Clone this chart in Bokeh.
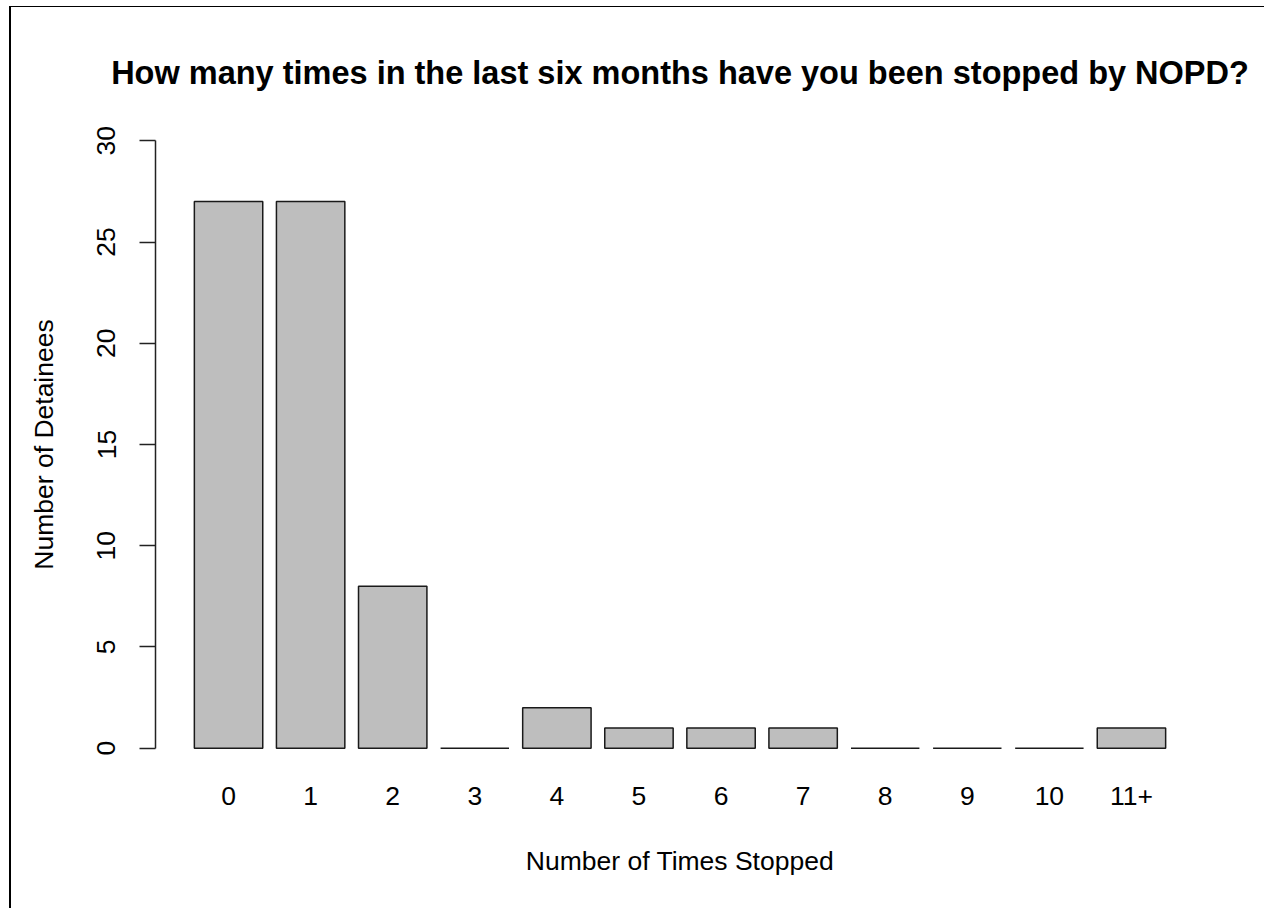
from bokeh.plotting import figure
from bokeh.models import Range1d, FixedTicker, ColumnDataSource
from bokeh.embed import file_html
from bokeh.resources import INLINE

# Data
categories = ["0", "1", "2", "3", "4", "5", "6", "7", "8", "9", "10", "11+"]
counts = [27, 27, 8, 0, 2, 1, 1, 1, 0, 0, 0, 1]
y_ticks = [0, 5, 10, 15, 20, 25, 30]

title_text = "How many times in the last six months have you been stopped by NOPD?"
x_title = "Number of Times Stopped"
y_title = "Number of Detainees"

# R barplot geometry: width 1, space 0.2
centers = [0.7 + 1.2 * i for i in range(len(categories))]
x_lo = 0.2
x_hi = 1.2 * len(categories)
pad = 0.04 * (x_hi - x_lo)

FONT = "Liberation Sans"

p = figure(width=1255, height=902, output_backend="svg", toolbar_location=None,
           x_range=Range1d(x_lo - pad, x_hi + pad), y_range=Range1d(-1.2, 31.2),
           min_border_left=144, min_border_right=62, min_border_top=109, min_border_bottom=137)
p.styles = {"border-left": "2px solid black", "border-top": "1px solid black",
            "margin-top": "6px", "margin-left": "9px"}

src = ColumnDataSource(dict(x=centers, top=counts, cat=categories))
p.vbar(x="x", top="top", bottom=0, width=1.0, source=src,
       fill_color="#BEBEBE", line_color="#1a1a1a", line_width=1.5)

p.outline_line_color = None
p.xgrid.visible = False
p.ygrid.visible = False
p.background_fill_color = "white"
p.border_fill_color = "white"

# Title
p.title.text = title_text
p.title.align = "center"
p.title.text_font = FONT
p.title.text_font_size = "32.5px"
p.title.text_font_style = "bold"
p.title.text_color = "black"
p.title.standoff = 52

# X axis (labels only)
xa = p.xaxis[0]
xa.ticker = FixedTicker(ticks=centers)
xa.major_label_overrides = {c: lab for c, lab in zip(centers, categories)}
xa.axis_line_color = None
xa.major_tick_line_color = None
xa.minor_tick_line_color = None
xa.major_tick_out = 0
xa.major_label_standoff = 14
xa.major_label_text_font = FONT
xa.major_label_text_font_size = "26.5px"
xa.major_label_text_color = "black"
xa.axis_label = x_title
xa.axis_label_text_font = FONT
xa.axis_label_text_font_size = "26.5px"
xa.axis_label_text_font_style = "normal"
xa.axis_label_text_color = "black"
xa.axis_label_standoff = 38

# Y axis
ya = p.yaxis[0]
ya.ticker = FixedTicker(ticks=y_ticks)
ya.bounds = (0, 30)
ya.axis_line_color = "#222222"
ya.axis_line_width = 1.5
ya.major_tick_line_color = "#222222"
ya.major_tick_line_width = 1.5
ya.major_tick_out = 16
ya.major_tick_in = 0
ya.minor_tick_line_color = None
ya.major_label_orientation = "vertical"
ya.major_label_standoff = 24
ya.major_label_text_font = FONT
ya.major_label_text_font_size = "26.5px"
ya.major_label_text_color = "black"
ya.axis_label = y_title
ya.axis_label_text_font = FONT
ya.axis_label_text_font_size = "26.5px"
ya.axis_label_text_font_style = "normal"
ya.axis_label_text_color = "black"
ya.axis_label_standoff = 36

open("out.html", "w").write(file_html(p, INLINE))
